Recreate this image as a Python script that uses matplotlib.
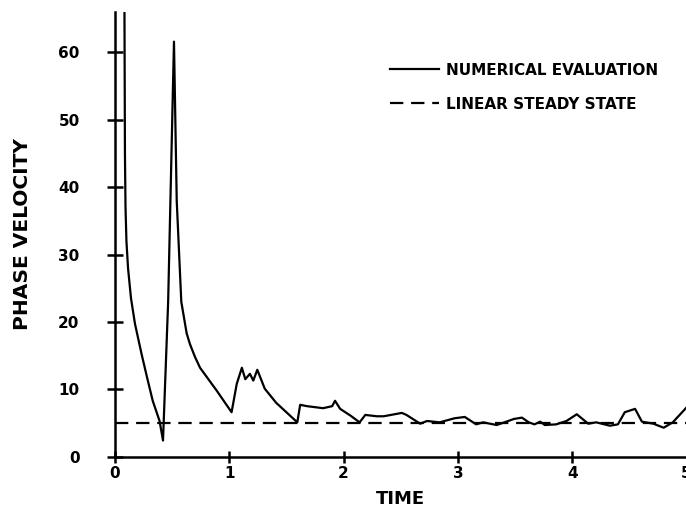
import matplotlib
matplotlib.use("Agg")
import matplotlib.pyplot as plt

# Numerical evaluation curve (time, phase velocity)
time = [0.082, 0.087, 0.092, 0.100, 0.114, 0.14, 0.175, 0.233, 0.28, 0.33, 0.39, 0.42,
        0.465, 0.516, 0.54, 0.58, 0.627, 0.656, 0.70, 0.744, 0.89, 1.02,
        1.065, 1.11, 1.14, 1.18, 1.21, 1.245, 1.31, 1.41, 1.595,
        1.62, 1.68, 1.82, 1.90, 1.925, 1.97, 2.06, 2.14, 2.19, 2.29, 2.35,
        2.51, 2.55, 2.67, 2.73, 2.84, 2.97, 3.06, 3.16, 3.22, 3.34, 3.49, 3.56,
        3.62, 3.67, 3.72, 3.76, 3.86, 3.95, 4.04, 4.14, 4.21, 4.33, 4.40, 4.46,
        4.55, 4.61, 4.71, 4.80, 4.88, 5.0]
velocity = [70.0, 45.0, 37.0, 32.0, 28.0, 23.5, 19.7, 15.2, 11.8, 8.3, 5.3, 2.4,
            23.0, 61.6, 38.0, 23.0, 18.3, 16.7, 14.8, 13.2, 9.8, 6.6,
            10.8, 13.2, 11.5, 12.3, 11.3, 12.9, 10.1, 8.0, 5.1,
            7.7, 7.5, 7.2, 7.5, 8.3, 7.1, 6.1, 5.1, 6.2, 6.0, 6.0,
            6.5, 6.2, 4.9, 5.3, 5.1, 5.7, 5.9, 4.8, 5.1, 4.7, 5.6, 5.8,
            5.1, 4.8, 5.2, 4.7, 4.8, 5.3, 6.3, 4.9, 5.1, 4.6, 4.8, 6.6,
            7.1, 5.2, 4.9, 4.3, 5.1, 7.3]
steady_state = 5.0

x_ticks = [0, 1, 2, 3, 4, 5]
y_ticks = [0, 10, 20, 30, 40, 50, 60]

fig = plt.figure(figsize=(6.86, 5.13), dpi=100)
ax = fig.add_axes([115 / 686, 56.3 / 513, 571.5 / 686, 444.7 / 513])

ax.plot(time, velocity, color="black", lw=1.6, solid_joinstyle="round",
        label="NUMERICAL EVALUATION", clip_on=True)
ax.axhline(steady_state, color="black", lw=1.6, dashes=(6, 3.5),
           label="LINEAR STEADY STATE")

ax.set_xlim(0, 5)
ax.set_ylim(0, 66)
ax.set_xticks(x_ticks)
ax.set_yticks(y_ticks)
ax.set_xticklabels([str(v) for v in x_ticks], fontsize=11, fontweight="bold")
ax.set_yticklabels([str(v) for v in y_ticks], fontsize=11, fontweight="bold")

for s in ["top", "right"]:
    ax.spines[s].set_visible(False)
for s in ["left", "bottom"]:
    ax.spines[s].set_linewidth(1.8)

ax.tick_params(axis="y", direction="inout", length=11, width=1.8, pad=20)
ax.tick_params(axis="x", direction="inout", length=9, width=1.8, pad=2)

ax.set_xlabel("TIME", fontsize=13, fontweight="bold", labelpad=7)
ax.set_ylabel("PHASE VELOCITY", fontsize=14.5, fontweight="bold", labelpad=19)

leg = ax.legend(loc="upper right", bbox_to_anchor=(0.975, 0.917), frameon=False,
                prop={"size": 11, "weight": "bold"}, handlelength=3.2,
                handletextpad=0.5, labelspacing=1.25)

fig.savefig("out.png", dpi=100)
